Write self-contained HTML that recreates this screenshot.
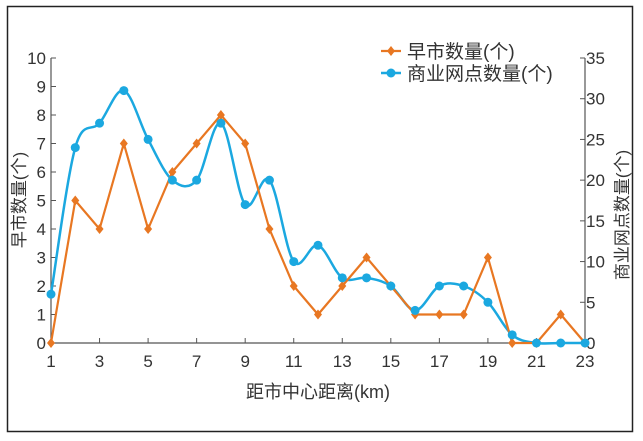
<!DOCTYPE html><html><head><meta charset="utf-8"><style>body{margin:0;background:#fff}svg{display:block}text{font-family:"Liberation Sans","Noto Sans CJK SC",sans-serif;fill:#333}</style></head><body>
<svg width="643" height="441" xmlns="http://www.w3.org/2000/svg">
<rect x="7.5" y="6.5" width="625" height="425" fill="none" stroke="#222" stroke-width="1.5"/>
<g id="g"></g>
</svg>
<script>
const g=document.getElementById('g');const NS='http://www.w3.org/2000/svg';
function el(t,a,txt){const e=document.createElementNS(NS,t);for(const k in a)e.setAttribute(k,a[k]);if(txt!=null)e.textContent=txt;g.appendChild(e);return e;}
const X=v=>51+(v-1)*(534/22), YL=v=>343-v*28.5, YR=v=>343-v*(285/35);
el('line',{x1:51,y1:58,x2:51,y2:343,stroke:'#555','stroke-width':1.2});
el('line',{x1:585,y1:58,x2:585,y2:343,stroke:'#555','stroke-width':1.2});
el('line',{x1:51,y1:343,x2:585,y2:343,stroke:'#555','stroke-width':1.2});
for(let i=0;i<=10;i++){el('line',{x1:51,y1:YL(i),x2:56,y2:YL(i),stroke:'#555'});el('text',{x:46,y:YL(i)+6,'text-anchor':'end','font-size':17},i);}
for(let i=0;i<=35;i+=5){el('line',{x1:580,y1:YR(i),x2:585,y2:YR(i),stroke:'#555'});el('text',{x:586,y:YR(i)+6,'font-size':17},i);}
for(let i=1;i<=23;i+=2){el('line',{x1:X(i),y1:343,x2:X(i),y2:338,stroke:'#555'});el('text',{x:X(i),y:367,'text-anchor':'middle','font-size':17},i);}
el('text',{x:318,y:398,'text-anchor':'middle','font-size':18},'距市中心距离(km)');
el('text',{x:0,y:0,'text-anchor':'middle','font-size':17,transform:'translate(25,200) rotate(-90)'},'早市数量(个)');
el('text',{x:0,y:0,'text-anchor':'middle','font-size':17,transform:'translate(628,215) rotate(-90)'},'商业网点数量(个)');
const o=[0,5,4,7,4,6,7,8,7,4,2,1,2,3,2,1,1,1,3,0,0,1,0];
const b=[6,24,27,31,25,20,20,27,17,20,10,12,8,8,7,4,7,7,5,1,0,0,0];
const bp=b.map((v,i)=>[X(i+1),YR(v)]);
let d='M'+bp[0];
for(let i=0;i<bp.length-1;i++){const p0=bp[Math.max(0,i-1)],p1=bp[i],p2=bp[i+1],p3=bp[Math.min(bp.length-1,i+2)];const t=0.5/3;
d+=` C${p1[0]+(p2[0]-p0[0])*t},${p1[1]+(p2[1]-p0[1])*t} ${p2[0]-(p3[0]-p1[0])*t},${p2[1]-(p3[1]-p1[1])*t} ${p2[0]},${p2[1]}`;}
el('path',{d:d,fill:'none',stroke:'#1BA8E0','stroke-width':2.5});
el('polyline',{points:o.map((v,i)=>X(i+1)+','+YL(v)).join(' '),fill:'none',stroke:'#E87722','stroke-width':2.2});
const dia=(x,y)=>el('path',{d:`M${x},${y-5}L${x+4},${y}L${x},${y+5}L${x-4},${y}Z`,fill:'#E87722'});
o.forEach((v,i)=>dia(X(i+1),YL(v)));
bp.forEach(p=>el('circle',{cx:p[0],cy:p[1],r:4.5,fill:'#1BA8E0'}));
el('line',{x1:381,y1:51,x2:401,y2:51,stroke:'#E87722','stroke-width':2.2});dia(391,51);
el('text',{x:407,y:58,'font-size':19},'早市数量(个)');
el('line',{x1:381,y1:73,x2:401,y2:73,stroke:'#1BA8E0','stroke-width':2.5});el('circle',{cx:391,cy:73,r:4.5,fill:'#1BA8E0'});
el('text',{x:407,y:80,'font-size':19},'商业网点数量(个)');
</script>
</body></html>
